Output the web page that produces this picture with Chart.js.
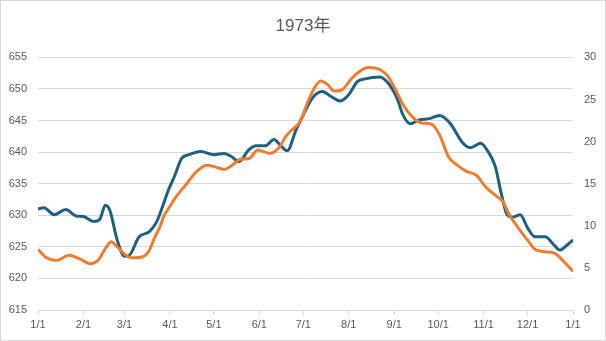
<!DOCTYPE html>
<html>
<head>
<meta charset="utf-8">
<script src="https://cdn.jsdelivr.net/npm/chart.js@4"></script>
<style>
  body { margin: 0; background: #fff; }
  #wrap { width: 606px; height: 341px; }
  canvas { outline: 1px solid #d9d9d9; outline-offset: -1px; }
</style>
</head>
<body>
<div id="wrap"><canvas id="myChart"></canvas></div>
<script>
// day of year (0 = 1/1) for the x axis
const monthDays = [0, 31, 59, 90, 120, 151, 181, 212, 243, 273, 304, 334, 365]
const monthLabels = ['1/1', '2/1', '3/1', '4/1', '5/1', '6/1', '7/1', '8/1', '9/1', '10/1', '11/1', '12/1', '1/1']

// blue line, left axis
const blueDays = [0, 4, 11, 19, 26, 31, 38, 42, 46, 49, 54, 59, 62, 69, 76, 81, 85, 89, 93, 98, 103, 111, 120, 127, 132, 137, 144, 149, 155, 161, 166, 170, 176, 180, 184, 188, 194, 200, 206, 212, 218, 223, 233, 239, 245, 249, 254, 260, 267, 274, 281, 290, 295, 302, 307, 312, 316, 320, 324, 329, 334, 339, 346, 352, 356, 361, 365]
const blueValues = [631.0, 631.2, 630.1, 630.9, 629.9, 629.8, 629.0, 629.3, 631.6, 630.8, 626.1, 623.5, 623.6, 626.6, 627.4, 629.0, 631.4, 634.0, 636.1, 639.0, 639.6, 640.1, 639.6, 639.8, 639.3, 638.5, 640.4, 641.0, 641.0, 642.0, 640.9, 640.2, 643.5, 645.4, 647.3, 648.8, 649.6, 648.8, 648.1, 649.1, 651.2, 651.6, 651.9, 650.9, 648.5, 645.9, 644.5, 645.1, 645.3, 645.8, 644.6, 641.4, 640.7, 641.4, 640.1, 637.7, 633.5, 630.1, 629.7, 630.1, 628.0, 626.6, 626.6, 625.3, 624.5, 625.3, 626.1]

// orange line, right axis
const orangeDays = [0, 5, 13, 21, 28, 36, 41, 46, 50, 54, 60, 64, 71, 76, 79, 83, 86, 90, 94, 101, 108, 115, 121, 127, 134, 138, 144, 150, 158, 164, 169, 172, 176, 179, 184, 189, 193, 198, 202, 207, 214, 220, 225, 231, 238, 243, 249, 255, 262, 268, 274, 280, 286, 292, 299, 306, 313, 317, 321, 327, 334, 340, 348, 353, 359, 365]
const orangeValues = [7.2, 6.3, 5.9, 6.5, 6.1, 5.5, 5.9, 7.3, 8.1, 7.5, 6.5, 6.2, 6.3, 7.1, 8.4, 9.8, 11.2, 12.3, 13.4, 14.9, 16.4, 17.2, 17.0, 16.7, 17.4, 17.9, 18.0, 19.0, 18.6, 19.2, 20.6, 21.2, 21.8, 22.4, 24.7, 26.5, 27.2, 26.7, 26.0, 26.1, 27.5, 28.4, 28.8, 28.7, 27.9, 26.5, 24.4, 23.0, 22.2, 22.1, 20.8, 18.2, 17.2, 16.5, 16.0, 14.5, 13.5, 12.9, 11.5, 9.9, 8.3, 7.1, 6.9, 6.7, 5.7, 4.6]

const textColor = '#595959'
const gridColor = '#d9d9d9'
const fontFamily = '"Liberation Sans", Arial, "Noto Sans CJK JP", sans-serif'

function toPoints(days, vals) {
  return days.map((d, i) => ({ x: d, y: vals[i] }))
}

const data = {
  datasets: [
    {
      label: 'orange',
      data: toPoints(orangeDays, orangeValues),
      borderColor: '#ed7d31',
      borderWidth: 3,
      pointRadius: 0,
      tension: 0.4,
      cubicInterpolationMode: 'monotone',
      yAxisID: 'y1',
      order: 0
    },
    {
      label: 'blue',
      data: toPoints(blueDays, blueValues),
      borderColor: '#1d6180',
      borderWidth: 3,
      pointRadius: 0,
      tension: 0.4,
      cubicInterpolationMode: 'monotone',
      yAxisID: 'y',
      order: 1
    }
  ]
}

const config = {
  type: 'line',
  data: data,
  options: {
    responsive: true,
    maintainAspectRatio: false,
    animation: false,
    layout: { padding: 0 },
    plugins: {
      legend: { display: false },
      tooltip: { enabled: false },
      title: {
        display: true,
        text: '1973年',
        color: textColor,
        font: { family: fontFamily, size: 17, weight: 'normal' },
        padding: { top: 16, bottom: 21 }
      }
    },
    scales: {
      x: {
        type: 'linear',
        min: 0,
        max: 365,
        afterFit: (s) => { s.height = 31 },
        afterBuildTicks: (s) => { s.ticks = monthDays.map(v => ({ value: v })) },
        border: { display: true, color: gridColor },
        grid: { drawOnChartArea: false, color: gridColor, tickLength: 5 },
        ticks: {
          color: textColor,
          font: { family: fontFamily, size: 11 },
          padding: 3,
          maxRotation: 0,
          autoSkip: false,
          callback: (v) => monthLabels[monthDays.indexOf(v)]
        }
      },
      y: {
        position: 'left',
        min: 615,
        max: 655,
        afterFit: (s) => { s.width = 38 },
        border: { display: false },
        grid: { color: gridColor, drawTicks: false },
        ticks: {
          stepSize: 5,
          color: textColor,
          font: { family: fontFamily, size: 11 },
          padding: 11
        }
      },
      y1: {
        position: 'right',
        min: 0,
        max: 30,
        afterFit: (s) => { s.width = 33 },
        border: { display: false },
        grid: { drawOnChartArea: false, drawTicks: false },
        ticks: {
          stepSize: 5,
          color: textColor,
          font: { family: fontFamily, size: 11 },
          padding: 11
        }
      }
    }
  }
}

const myChart = new Chart(document.getElementById('myChart'), config)
</script>
</body>
</html>
